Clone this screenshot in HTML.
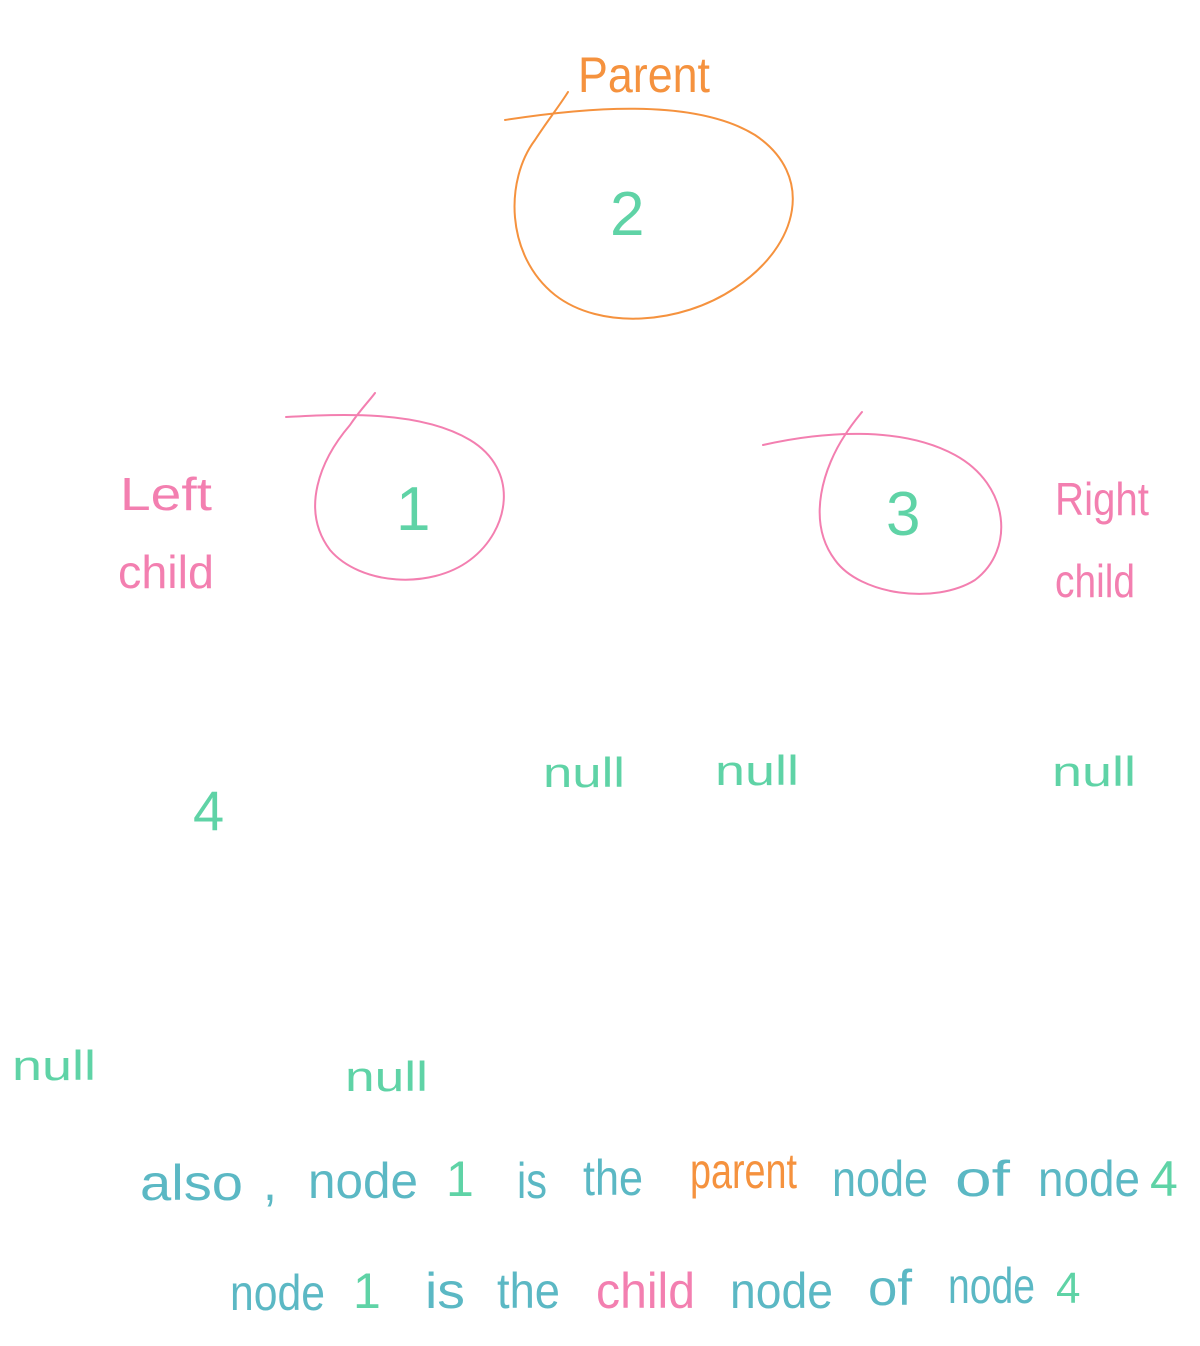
<!DOCTYPE html>
<html><head><meta charset="utf-8"><style>
html,body{margin:0;padding:0;background:#fff;}
svg{display:block;}
text{font-family:"Liberation Sans",sans-serif;}
</style></head><body>
<svg width="1200" height="1346" viewBox="0 0 1200 1346" xmlns="http://www.w3.org/2000/svg">
<rect width="1200" height="1346" fill="#fff"/>
<g fill="none" stroke-width="2" stroke-linecap="round">
<path stroke="#f5923e" d="M505,120 C570,110 690,95 755,135 C815,175 800,245 735,288 C680,325 600,330 555,295 C505,255 505,180 535,140 C548,120 560,105 568,92"/>
<path stroke="#f37fb0" d="M286,417 C340,414 420,410 470,440 C520,470 510,530 470,560 C430,590 360,585 330,550 C300,510 320,460 350,425 C360,410 370,400 375,393"/>
<path stroke="#f37fb0" d="M763,445 C820,432 900,425 955,455 C1010,485 1015,550 975,580 C935,605 860,595 835,560 C805,520 825,465 845,435 C852,424 858,417 862,412"/>
</g>
<g font-weight="normal">
<text x="578" y="92" font-size="50" fill="#f5923e" textLength="132" lengthAdjust="spacingAndGlyphs">Parent</text>
<text x="610" y="235" font-size="62" fill="#5fd3a6">2</text>
<text x="396" y="530" font-size="62" fill="#5fd3a6">1</text>
<text x="886" y="535" font-size="62" fill="#5fd3a6">3</text>
<text x="120" y="510" font-size="46" fill="#f37fb0" textLength="92" lengthAdjust="spacingAndGlyphs">Left</text>
<text x="118" y="588" font-size="46" fill="#f37fb0" textLength="96" lengthAdjust="spacingAndGlyphs">child</text>
<text x="1055" y="515" font-size="46" fill="#f37fb0" textLength="94" lengthAdjust="spacingAndGlyphs">Right</text>
<text x="1055" y="597" font-size="46" fill="#f37fb0" textLength="80" lengthAdjust="spacingAndGlyphs">child</text>
<g fill="#5fd3a6" font-size="42">
<text x="543" y="787" textLength="82" lengthAdjust="spacingAndGlyphs">null</text>
<text x="715" y="785" textLength="84" lengthAdjust="spacingAndGlyphs">null</text>
<text x="1052" y="786" textLength="84" lengthAdjust="spacingAndGlyphs">null</text>
<text x="193" y="830" font-size="56">4</text>
<text x="12" y="1080" textLength="84" lengthAdjust="spacingAndGlyphs">null</text>
<text x="345" y="1091" textLength="83" lengthAdjust="spacingAndGlyphs">null</text>
</g>
<g font-size="50" fill="#5bb8c4">
<text x="140" y="1200" textLength="103" lengthAdjust="spacingAndGlyphs">also</text>
<text x="263" y="1200">,</text>
<text x="308" y="1198" textLength="110" lengthAdjust="spacingAndGlyphs">node</text>
<text x="446" y="1196" fill="#5fd3a6">1</text>
<text x="517" y="1198" textLength="30" lengthAdjust="spacingAndGlyphs">is</text>
<text x="583" y="1195" textLength="60" lengthAdjust="spacingAndGlyphs">the</text>
<text x="690" y="1188" fill="#f5923e" textLength="107" lengthAdjust="spacingAndGlyphs">parent</text>
<text x="832" y="1196" textLength="96" lengthAdjust="spacingAndGlyphs">node</text>
<text x="955" y="1196" textLength="55" lengthAdjust="spacingAndGlyphs">of</text>
<text x="1038" y="1196" textLength="102" lengthAdjust="spacingAndGlyphs">node</text>
<text x="1150" y="1196" fill="#5fd3a6">4</text>
<text x="230" y="1310" textLength="95" lengthAdjust="spacingAndGlyphs">node</text>
<text x="353" y="1308" fill="#5fd3a6">1</text>
<text x="425" y="1308" textLength="40" lengthAdjust="spacingAndGlyphs">is</text>
<text x="497" y="1308" textLength="63" lengthAdjust="spacingAndGlyphs">the</text>
<text x="596" y="1308" fill="#f37fb0" textLength="99" lengthAdjust="spacingAndGlyphs">child</text>
<text x="730" y="1308" textLength="103" lengthAdjust="spacingAndGlyphs">node</text>
<text x="868" y="1305" textLength="44" lengthAdjust="spacingAndGlyphs">of</text>
<text x="948" y="1303" textLength="87" lengthAdjust="spacingAndGlyphs">node</text>
<text x="1056" y="1303" font-size="44" fill="#5fd3a6">4</text>
</g>
</g>
</svg>
</body></html>
